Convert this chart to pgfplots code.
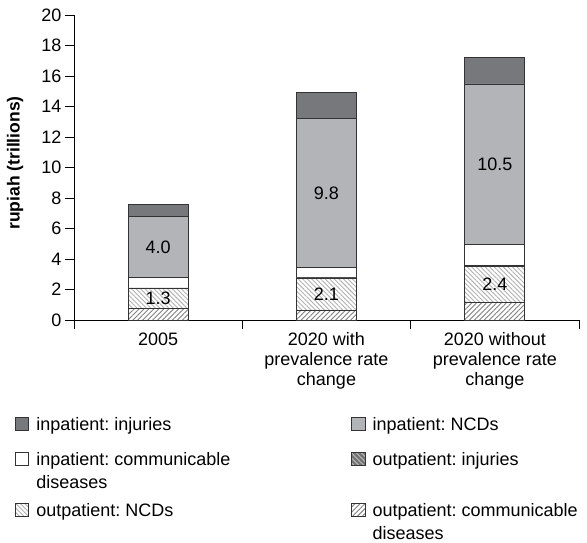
\documentclass[border=0pt]{standalone}
\usepackage{pgfplots}
\pgfplotsset{compat=1.18}
\usepackage{pgfplotstable}
\usetikzlibrary{patterns.meta}
\usepackage{fontspec}
\setmainfont{Liberation Sans}
\definecolor{injdark}{HTML}{77787B}
\definecolor{ncdgray}{HTML}{B2B4B7}
\pgfplotstableread{
x oc on oi ic in ii
0 0.77 1.3 0.03 0.70 4.0 0.76
1 0.66 2.1 0.02 0.65 9.8 1.67
2 1.13 2.4 0.03 1.42 10.5 1.75
}\data
\newcommand{\lt}[1]{\parbox[t]{315pt}{\frenchspacing\strut #1\strut}}
\newcommand{\ltone}[1]{\parbox[t]{315pt}{\frenchspacing\strut #1\rule[-13.4pt]{0pt}{13.4pt}}}
\begin{document}
\frenchspacing
\begin{tikzpicture}
\useasboundingbox (-74pt,-222pt) rectangle (513pt,320pt);
\begin{axis}[
  scale only axis,
  width=505pt, height=305pt,
  ybar stacked, bar width=60pt,
  xmin=-0.5, xmax=2.5, ymin=0, ymax=20,
  ytick={0,2,...,20},
  xtick={0,1,2},
  xticklabels={2005,{2020 with\\prevalence rate\\change},{2020 without\\prevalence rate\\change}},
  minor xtick={-0.5,0.5,1.5,2.5},
  major x tick style={draw=none},
  tick align=outside,
  major tick length=9pt, minor tick length=9pt,
  axis x line*=bottom, axis y line*=left,
  axis line style={black, line width=0.8pt},
  every tick/.style={black, line width=0.8pt},
  /pgf/number format/assume math mode=true,
  tick label style={font=\fontsize{18}{20}\selectfont},
  xticklabel style={align=center},
  every axis y label/.style={at={(axis description cs:-0.1168,0.515)}, rotate=90, anchor=center, font=\fontsize{17.5}{20}\selectfont\bfseries},
  ylabel={rupiah (trillions)},
  every axis plot/.append style={draw=black!80, line width=0.8pt},
  legend columns=2,
  reverse legend,
  legend cell align=left,
  legend style={at={(rel axis cs:0,0)}, anchor=north west, xshift=-59pt, yshift=-94.6pt,
    draw=none, fill=none, inner sep=0pt, outer sep=0pt, row sep=5pt, column sep=0pt,
    nodes={inner sep=0pt, outer sep=0pt, text depth=},
    cells={anchor=base west},
    font=\fontsize{18}{23}\selectfont,
    /tikz/every odd column/.append style={column sep=7pt}},
  legend image code/.code={\draw[#1] (0pt,0pt) rectangle (13.5pt,13pt);},
  ncdlabel/.style={
    visualization depends on={rawy \as \rawy},
    nodes near coords={\pgfmathprintnumber[fixed,fixed zerofill,precision=1]{\rawy}},
    every node near coord/.style={anchor=center, font=\fontsize{18}{20}\selectfont}
  },
]
\addplot[fill=white, postaction={pattern={Lines[angle=45,distance=3.5pt,line width=0.9pt]}, pattern color=black!50}] table[x=x,y=oc]{\data};
\addlegendentry{\lt{outpatient: communicable\newline diseases}}
\addplot[fill=white, postaction={pattern={Lines[angle=-45,distance=3.2pt,line width=0.9pt]}, pattern color=black!30}, ncdlabel] table[x=x,y=on]{\data};
\addlegendentry{\lt{outpatient: NCDs}}
\addplot[fill=black!55, postaction={pattern={Lines[angle=-45,distance=3.5pt,line width=0.9pt]}, pattern color=black!25}] table[x=x,y=oi]{\data};
\addlegendentry{\lt{outpatient: injuries}}
\addplot[fill=white] table[x=x,y=ic]{\data};
\addlegendentry{\lt{inpatient: communicable\newline diseases}}
\addplot[fill=ncdgray, ncdlabel] table[x=x,y=in]{\data};
\addlegendentry{\ltone{inpatient: NCDs}}
\addplot[fill=injdark] table[x=x,y=ii]{\data};
\addlegendentry{\ltone{inpatient: injuries}}
\end{axis}
\end{tikzpicture}
\end{document}
